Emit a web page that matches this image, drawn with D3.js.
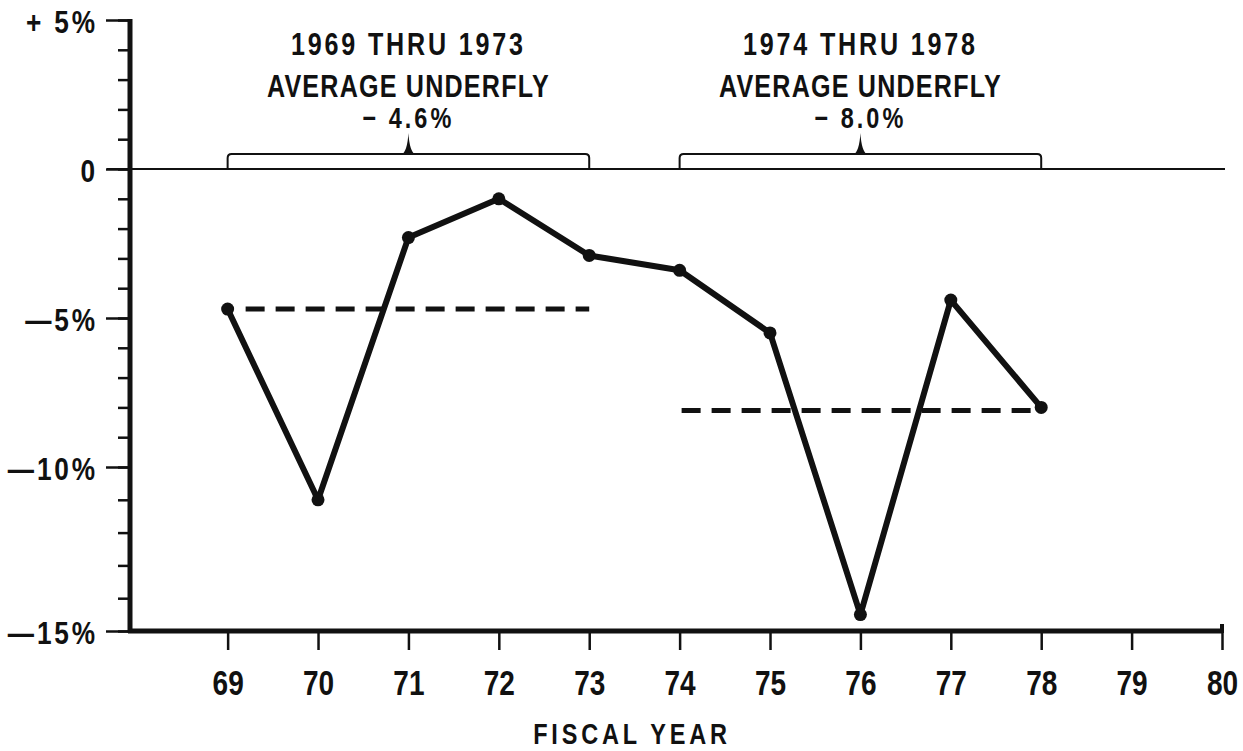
<!DOCTYPE html>
<html>
<head>
<meta charset="utf-8">
<script src="https://cdn.jsdelivr.net/npm/d3@7"></script>
<style>
  html, body { margin: 0; padding: 0; background: #fff; }
  svg { display: block; }
  text { font-family: "Liberation Sans", Arial, sans-serif; font-weight: bold; fill: #111; }
</style>
</head>
<body>
<svg id="chart" width="1243" height="751"></svg>
<script>
// ---- data ----
const years = [69, 70, 71, 72, 73, 74, 75, 76, 77, 78];
const underfly = [-4.7, -11.0, -2.3, -1.0, -2.9, -3.4, -5.5, -14.5, -4.4, -8.0];

const periodTitles = ["1969 THRU 1973", "1974 THRU 1978"];
const periodSubtitles = ["AVERAGE UNDERFLY", "AVERAGE UNDERFLY"];
const periodAvgLabels = ["\u2212 4.6%", "\u2212 8.0%"];
const periodStart = [69, 74];
const periodEnd = [73, 78];
const periodAvg = [-4.7, -8.1];

const xTickYears = [69, 70, 71, 72, 73, 74, 75, 76, 77, 78, 79, 80];
const yMajorTicks = [5, 0, -5, -10, -15];
const yMajorLabels = ["+ 5%", "0", "\u20145%", "\u201410%", "\u201415%"];
const yMinorTicks = d3.range(-15, 6);
const xTitle = "FISCAL YEAR";

// ---- helpers ----
// the reference uses a condensed type face: compress glyphs horizontally
function condense(sel, sx) {
  sel.each(function () {
    const t = d3.select(this);
    const xv = +(t.attr("x") || 0);
    t.attr("x", xv / sx).attr("transform", `scale(${sx},1)`);
  });
}

// ---- scales ----
const svg = d3.select("#chart");
const x = d3.scaleLinear().domain([67.92, 80]).range([130, 1222]);
// hand-drawn axis: the printed ticks are not perfectly evenly spaced
const y = d3.scaleLinear().domain([5, 0, -5, -10, -15]).range([20, 169, 318, 467, 631]);

const ink = "#111";

// zero line
svg.append("line")
  .attr("x1", 107).attr("x2", 1225)
  .attr("y1", y(0)).attr("y2", y(0))
  .attr("stroke", ink).attr("stroke-width", 2);

// y axis minor ticks
const yMinor = svg.append("g").attr("transform", `translate(${x(67.92)},0)`)
  .call(d3.axisLeft(y).tickValues(yMinorTicks).tickSize(12).tickFormat(""));
yMinor.select(".domain").remove();
yMinor.selectAll(".tick line").attr("stroke", ink).attr("stroke-width", 2.5);

// y axis major ticks and labels
const labelFor = v => yMajorLabels[yMajorTicks.indexOf(v)];
const yMajor = svg.append("g").attr("transform", `translate(${x(67.92)},0)`)
  .call(d3.axisLeft(y).tickValues(yMajorTicks).tickSize(24).tickPadding(8).tickFormat(labelFor));
yMajor.select(".domain").remove();
yMajor.attr("font-family", null).attr("font-size", null);
yMajor.selectAll(".tick line").attr("stroke", ink).attr("stroke-width", 2.5);
yMajor.selectAll(".tick text")
  .attr("font-size", 32).attr("dy", "0.40em").attr("letter-spacing", 3.5).attr("fill", ink)
  .call(condense, 0.82);

// y axis spine
svg.append("line")
  .attr("x1", x(67.92)).attr("x2", x(67.92))
  .attr("y1", y(5) - 1).attr("y2", y(-15) + 2)
  .attr("stroke", ink).attr("stroke-width", 5);

// x axis
const xAxis = svg.append("g").attr("transform", `translate(0,${y(-15)})`)
  .call(d3.axisBottom(x).tickValues(xTickYears).tickSize(19).tickPadding(22).tickFormat(d3.format("d")));
xAxis.select(".domain").remove();
xAxis.attr("font-family", null).attr("font-size", null);
xAxis.selectAll(".tick line").attr("stroke", ink).attr("stroke-width", 2.5);
xAxis.selectAll(".tick text").attr("font-size", 35).attr("dy", "0.66em").attr("fill", ink)
  .call(condense, 0.8);

svg.append("line")
  .attr("x1", x(67.92) - 2).attr("x2", x(80) + 1)
  .attr("y1", y(-15)).attr("y2", y(-15))
  .attr("stroke", ink).attr("stroke-width", 5);
svg.append("line")
  .attr("x1", x(80)).attr("x2", x(80))
  .attr("y1", y(-15) - 7).attr("y2", y(-15) + 2)
  .attr("stroke", ink).attr("stroke-width", 4);

// x title
svg.append("text")
  .attr("x", 632).attr("y", 744)
  .attr("text-anchor", "middle")
  .attr("font-size", 29)
  .attr("letter-spacing", 4.7)
  .text(xTitle)
  .call(condense, 0.81);

// period brackets, labels and average lines
const dashStartOffset = [18, 2];
periodStart.forEach((s, i) => {
  const x0 = x(s), x1 = x(periodEnd[i]), xm = (x0 + x1) / 2;
  const yb = y(0) - 1, yt = y(0) - 15;
  svg.append("path")
    .attr("d", `M${x0},${yb} L${x0},${yt + 4} Q${x0},${yt} ${x0 + 4},${yt} L${x1 - 4},${yt} Q${x1},${yt} ${x1},${yt + 4} L${x1},${yb}`)
    .attr("fill", "none").attr("stroke", ink).attr("stroke-width", 2);
  svg.append("path")
    .attr("d", `M${xm - 7},${yt + 1} Q${xm - 1},${yt - 3} ${xm},${yt - 21} Q${xm + 1},${yt - 3} ${xm + 7},${yt + 1} Z`)
    .attr("fill", ink);

  const g = svg.append("g").attr("text-anchor", "middle");
  g.append("text").attr("x", xm).attr("y", 55).attr("font-size", 31).attr("letter-spacing", 3.5).text(periodTitles[i]);
  g.append("text").attr("x", xm).attr("y", 97).attr("font-size", 31).attr("letter-spacing", 1.5).text(periodSubtitles[i]);
  g.append("text").attr("x", xm).attr("y", 128).attr("font-size", 29).attr("letter-spacing", 3.7).text(periodAvgLabels[i]);
  g.selectAll("text").call(condense, 0.81);

  svg.append("line")
    .attr("x1", x0 + dashStartOffset[i]).attr("x2", x1)
    .attr("y1", y(periodAvg[i])).attr("y2", y(periodAvg[i]))
    .attr("stroke", ink).attr("stroke-width", 5)
    .attr("stroke-dasharray", "19,11");
});

// data line
const pts = years.map((yr, i) => [yr, underfly[i]]);
svg.append("path")
  .datum(pts)
  .attr("d", d3.line().x(d => x(d[0])).y(d => y(d[1])))
  .attr("fill", "none").attr("stroke", ink)
  .attr("stroke-width", 6).attr("stroke-linejoin", "round").attr("stroke-linecap", "round");

svg.selectAll("circle.pt").data(pts).join("circle")
  .attr("class", "pt")
  .attr("cx", d => x(d[0])).attr("cy", d => y(d[1]))
  .attr("r", 6.5).attr("fill", ink);
</script>
</body>
</html>
